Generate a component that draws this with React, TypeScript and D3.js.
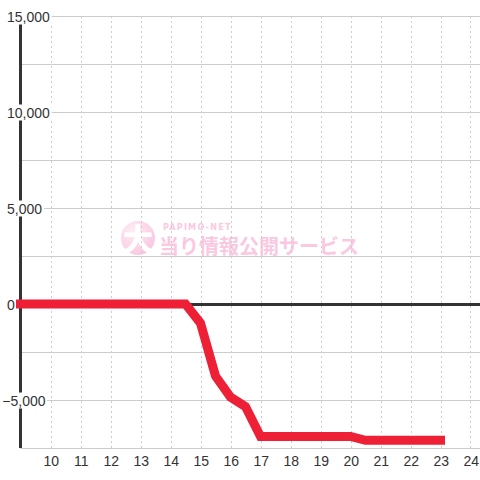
import React from "react";
import * as d3 from "d3";

const hours = [9, 14.5, 15, 15.5, 16, 16.5, 17, 20, 20.5, 23];
const values = [0, 0, -1000, -3750, -4850, -5350, -6900, -6900, -7100, -7100];
const xTicks = [10, 11, 12, 13, 14, 15, 16, 17, 18, 19, 20, 21, 22, 23, 24];
const yLabelTicks = [-5000, 0, 5000, 10000, 15000];
const yGridTicks = [-7500, -5000, -2500, 0, 2500, 5000, 7500, 10000, 12500, 15000];

const W = 480;
const H = 480;
const FONT = "'Liberation Sans', Arial, sans-serif";

function labelWidth(s: string): number {
  let w = 0;
  for (const c of s) {
    if (c === ",") w += 3.89;
    else if (c === "-") w += 4.66;
    else w += 7.79;
  }
  return w;
}

export default function App() {
  const x = d3.scaleLinear().domain([9, 24.3]).range([20.5, 479.5]);
  const y = d3.scaleLinear().domain([-7500, 15000]).range([448, 16]);
  const fmt = d3.format(",");
  const line = d3
    .line<number>()
    .x((_, i) => x(hours[i]))
    .y((d) => y(d));
  const path = line(values) || "";
  const left = x(9);

  return (
    <div style={{ position: "fixed", left: 0, top: 0 }}>
      <svg width={W} height={H} style={{ display: "block", background: "#fff" }}>
        <defs>
          <radialGradient id="wmg" cx="35%" cy="30%" r="75%">
            <stop offset="0%" stopColor="#fdeef5" />
            <stop offset="100%" stopColor="#fac6e0" />
          </radialGradient>
        </defs>
        {/* watermark */}
        <g>
          <circle cx={138} cy={238} r={17} fill="url(#wmg)" />
          <text x={138} y={250} textAnchor="middle" fontFamily="'Noto Sans CJK JP', sans-serif" fontWeight={900} fontSize={30} fill="#ffffff">大</text>
          <text x={163} y={230} fontFamily="'DejaVu Sans Condensed', 'DejaVu Sans', sans-serif" fontWeight={700} fontSize={9} letterSpacing={1.2} fill="#fbc8e0">PAPIMO-NET</text>
          <text x={159} y={254} fontFamily="'Noto Sans CJK JP', sans-serif" fontWeight={700} fontSize={20} fill="#fbc8e2" letterSpacing={0}>当り情報公開サービス</text>
        </g>
        {/* horizontal grid */}
        {yGridTicks.map((t) => (
          <line key={"hg" + t} x1={left} x2={W} y1={y(t) + 0.5} y2={y(t) + 0.5} stroke="#cccccc" strokeWidth={1} />
        ))}
        {/* vertical dashed grid */}
        {xTicks.map((t) => (
          <line
            key={"vg" + t}
            x1={Math.round(x(t)) + 0.5}
            x2={Math.round(x(t)) + 0.5}
            y1={y(15000)}
            y2={y(-7500)}
            stroke="#cccccc"
            strokeWidth={1}
            strokeDasharray="2,3"
          />
        ))}
        {/* axis line */}
        <line x1={left} x2={left} y1={y(15000) + 8} y2={y(-7500)} stroke="#333" strokeWidth={3} />
        {/* zero line */}
        <line x1={left} x2={W} y1={y(0) + 0.5} y2={y(0) + 0.5} stroke="#333" strokeWidth={3} />
        {/* y labels */}
        {yLabelTicks.map((t) => {
          const s = fmt(t);
          const neg = t < 0;
          const tx = neg ? 2.3 : 7;
          const w = labelWidth(s);
          return (
            <g key={"yl" + t}>
              <rect x={tx - 1} y={y(t) - 7.5} width={w + 3} height={16} fill="#fff" />
              <text x={tx} y={y(t) + 6} fontFamily={FONT} fontSize={14} fill="#333">
                {s}
              </text>
            </g>
          );
        })}
        {/* x labels */}
        {xTicks.map((t) => (
          <text key={"xl" + t} x={x(t) + 0.7} y={466} textAnchor="middle" fontFamily={FONT} fontSize={14} fill="#333">
            {t}
          </text>
        ))}
        {/* data line */}
        <path d={path} fill="none" stroke="#ee2036" strokeWidth={9} strokeLinecap="square" strokeLinejoin="miter" />
      </svg>
    </div>
  );
}
